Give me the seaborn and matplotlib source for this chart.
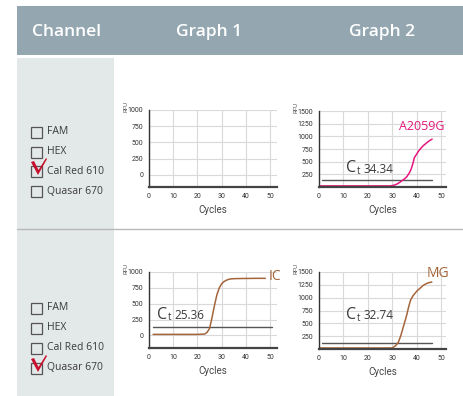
import numpy as np
import pandas as pd
import matplotlib
matplotlib.use("Agg")
import matplotlib.pyplot as plt
import seaborn as sns
from matplotlib.patches import Rectangle, Polygon

# donnees
channels = ["FAM", "HEX", "Cal Red 610", "Quasar 670"]
checked = ["Cal Red 610", "Quasar 670"]  # ligne 1, ligne 2
headers = ["Channel", "Graph 1", "Graph 2"]

ic_cycles = [1.7, 10, 20, 23, 24, 25, 26, 27, 28, 29, 30, 31, 32, 33, 34, 36, 40, 44, 48]
ic_rfu = [15, 15, 15, 20, 50, 110, 280, 470, 640, 750, 815, 850, 872, 885, 892, 896, 898, 900, 900]

a2059g_cycles = [0.5, 10, 20, 29, 30, 31, 32, 33, 34, 35, 36, 37, 37.7, 38.5, 39, 40, 40.7, 41.7, 42.7, 43.8, 44.8, 46.3]
a2059g_rfu = [22, 22, 22, 22, 28, 40, 60, 90, 125, 160, 205, 280, 350, 470, 575, 650, 705, 765, 815, 860, 900, 945]

mg_cycles = [0.5, 10, 20, 29.7, 30.5, 31.5, 32.5, 33.5, 34.5, 35.2, 35.9, 36.7, 37.5, 38.4, 39.3, 40.3, 41.4, 42.7, 44, 45.2, 46.2]
mg_rfu = [20, 20, 20, 20, 35, 70, 132, 260, 428, 540, 658, 820, 954, 1030, 1085, 1140, 1184, 1240, 1275, 1295, 1305]

# seuils (debut, fin, valeur)
thr_g1_bot = ([1.7, 50.7], [126, 126])
thr_g2_top = ([1.4, 46.3], [133, 133])
thr_g2_bot = ([1.4, 46.3], [118, 118])

ct_values = ["25.36", "34.34", "32.74"]

magenta = "#e5177f"
brown = "#a5653a"
red = "#c8102e"
header_col = "#94a7b1"
panel_col = "#e3e8e8"

sns.set_style("white")
plt.rcParams["font.family"] = ["Open Sans", "DejaVu Sans"]

W, H = 464, 396
fig = plt.figure(figsize=(W / 100, H / 100), dpi=100)

# fond en pixels
bg = fig.add_axes([0, 0, 1, 1], zorder=0)
bg.set_xlim(0, W)
bg.set_ylim(H, 0)
bg.axis("off")
bg.add_patch(Rectangle((17, 6), W - 17, 49, color=header_col, lw=0))
bg.add_patch(Rectangle((17, 58), 97, H - 58, color=panel_col, lw=0))
bg.plot([17, W], [229, 229], color="#b8b8b8", lw=1)
for txt, xc in zip(headers, [67, 209, 382]):
    bg.text(xc, 32, txt, color="white", fontsize=12.5, fontweight="semibold", ha="center", va="center")

for row, ys in enumerate([[132, 152, 171, 191], [308, 328, 348, 368]]):
    for name, yc in zip(channels, ys):
        bg.add_patch(Rectangle((31, yc - 5.5), 11, 11, fill=False, ec="#555555", lw=0.9))
        bg.text(47, yc, name, fontsize=7.5, color="#3a3a3a", va="center")
        if name == checked[row]:
            bg.add_patch(Polygon([(31, yc - 9), (34, yc - 10), (38.5, yc - 1), (46, yc - 13),
                                  (47, yc - 12), (38, yc + 4)], closed=True, color=red, lw=0))


def make_ax(x0, x1, y0, y1, ylim, yticks, xmax):
    ax = fig.add_axes([x0 / W, 1 - y1 / H, (x1 - x0) / W, (y1 - y0) / H], zorder=2)
    ax.set_facecolor("none")
    ax.set_xlim(0, xmax)
    ax.set_ylim(*ylim)
    ax.set_xticks([0, 10, 20, 30, 40, 50])
    ax.set_yticks(yticks)
    ax.grid(True, color="#d9d9d9", lw=0.8)
    for s in ["top", "right"]:
        ax.spines[s].set_visible(False)
    ax.spines["left"].set_color("#333333")
    ax.spines["left"].set_linewidth(1)
    ax.spines["bottom"].set_color("#444444")
    ax.spines["bottom"].set_linewidth(1.6)
    ax.tick_params(axis="both", labelsize=5, colors="#333333", length=2, width=0.6, pad=2)
    for lab in ax.get_xticklabels() + ax.get_yticklabels():
        lab.set_family("Roboto")
    ax.text(-0.18, 1.05, "RFU", transform=ax.transAxes, rotation=90, fontsize=4.5,
            color="#555555", family="Roboto", ha="center", va="center")
    return ax


def ct_label(ax, x, y, val):
    ax.annotate("C", (x, y), fontsize=11.5, color="#3a3a3a", va="center")
    ax.annotate("t", (x, y), xytext=(7.8, -2), textcoords="offset points",
                fontsize=7, color="#3a3a3a", va="center")
    ax.annotate(val, (x, y), xytext=(12.5, -0.5), textcoords="offset points",
                fontsize=8.5, color="#3a3a3a", va="center")


# Graph 1, ligne 1 (vide)
ax1 = make_ax(149, 277, 110, 187, (-190, 1000), [0, 250, 500, 750, 1000], 52.8)

# Graph 2, ligne 1
ax2 = make_ax(319, 446, 111, 187, (0, 1500), [250, 500, 750, 1000, 1250, 1500], 52)
sns.lineplot(x=thr_g2_top[0], y=thr_g2_top[1], ax=ax2, color="#555555", lw=1)
sns.lineplot(x=a2059g_cycles, y=a2059g_rfu, ax=ax2, color=magenta, lw=1.1)
ax2.text(42, 1190, "A2059G", color=magenta, fontsize=9, ha="center", va="center")
ct_label(ax2, 11.2, 367, ct_values[1])

# Graph 1, ligne 2
ax3 = make_ax(149, 277, 272, 348, (-200, 1000), [0, 250, 500, 750, 1000], 52.8)
sns.lineplot(x=thr_g1_bot[0], y=thr_g1_bot[1], ax=ax3, color="#555555", lw=1)
sns.lineplot(x=ic_cycles, y=ic_rfu, ax=ax3, color=brown, lw=1.1)
ax3.text(49.3, 925, "IC", color=brown, fontsize=10, va="center", clip_on=False)
ct_label(ax3, 3.5, 320, ct_values[0])

# Graph 2, ligne 2
ax4 = make_ax(319, 446, 272, 349, (0, 1500), [250, 500, 750, 1000, 1250, 1500], 52)
sns.lineplot(x=thr_g2_bot[0], y=thr_g2_bot[1], ax=ax4, color="#555555", lw=1)
sns.lineplot(x=mg_cycles, y=mg_rfu, ax=ax4, color=brown, lw=1.1)
ax4.text(44, 1480, "MG", color=brown, fontsize=10, va="center", clip_on=False)
ct_label(ax4, 11.2, 658, ct_values[2])

for ax in [ax1, ax2, ax3, ax4]:
    ax.set_xlabel("Cycles", fontsize=7, color="#444444", family="Roboto", labelpad=4)
    ax.set_ylabel("")

fig.savefig("out.png", dpi=100)
